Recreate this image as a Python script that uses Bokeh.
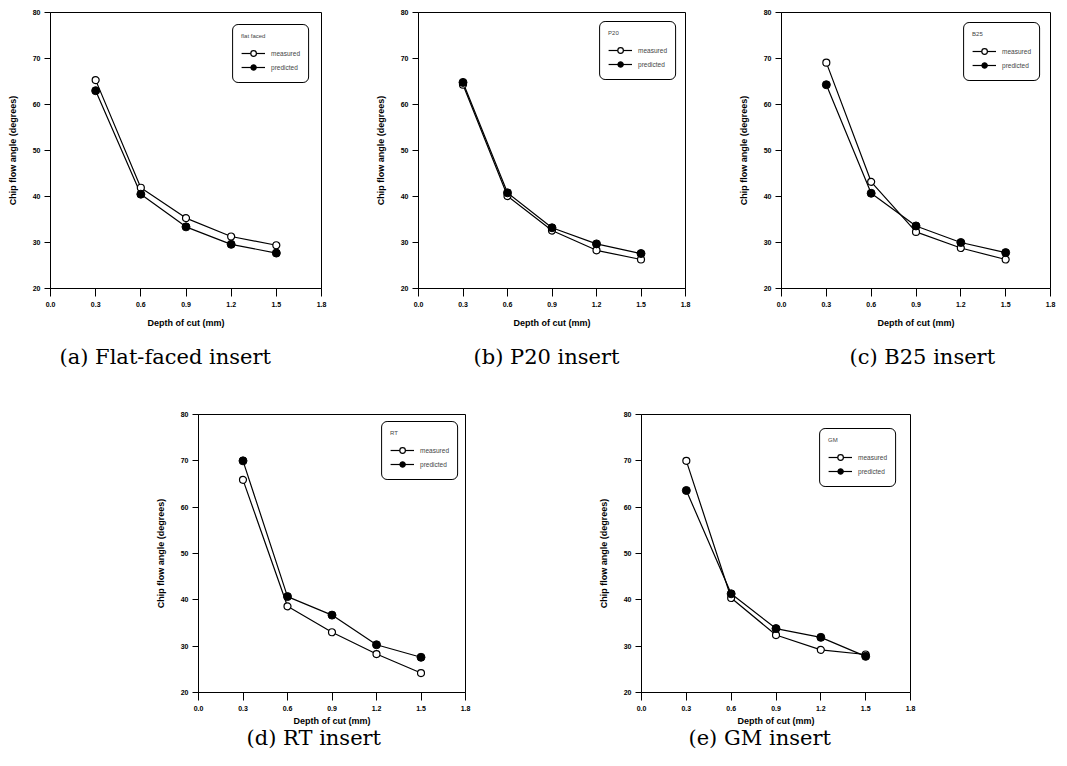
from bokeh.plotting import figure
from bokeh.models import Range1d, FixedTicker, Title, Spacer, PrintfTickFormatter
from bokeh.layouts import column, row
from bokeh.embed import file_html
from bokeh.resources import INLINE

# ---- data ----
depth = [0.3, 0.6, 0.9, 1.2, 1.5]
x_ticks = [0.0, 0.3, 0.6, 0.9, 1.2, 1.5, 1.8]
y_ticks = [20, 30, 40, 50, 60, 70, 80]

flat_measured = [65.3, 41.9, 35.3, 31.3, 29.4]
flat_predicted = [63.0, 40.5, 33.4, 29.6, 27.7]
p20_measured = [64.3, 40.1, 32.6, 28.3, 26.3]
p20_predicted = [64.8, 40.8, 33.2, 29.7, 27.6]
b25_measured = [69.1, 43.2, 32.3, 28.8, 26.3]
b25_predicted = [64.3, 40.7, 33.6, 30.0, 27.8]
rt_measured = [65.9, 38.6, 33.0, 28.3, 24.2]
rt_predicted = [70.0, 40.7, 36.7, 30.3, 27.6]
gm_measured = [70.0, 40.4, 32.4, 29.2, 28.2]
gm_predicted = [63.6, 41.3, 33.8, 31.9, 27.8]

legend_titles = ["flat faced", "P20", "B25", "RT", "GM"]
captions = ["(a) Flat-faced insert", "(b) P20 insert", "(c) B25 insert",
            "(d) RT insert", "(e) GM insert"]
series_labels = ["measured", "predicted"]
x_label = "Depth of cut (mm)"
y_label = "Chip flow angle (degrees)"

SANS = "Liberation Sans"
SERIF = "DejaVu Serif"


def make_panel(meas, pred, ltitle, caption, fw, fh, bl, br, bt, bb,
               cap_offset, cap_standoff, lmargin, xlab_standoff):
    p = figure(frame_width=fw, frame_height=fh,
               x_range=Range1d(0, 1.8), y_range=Range1d(20, 80),
               output_backend="svg", toolbar_location=None,
               min_border_left=bl, min_border_right=br,
               min_border_top=bt, min_border_bottom=bb,
               x_axis_label=x_label, y_axis_label=y_label)
    p.background_fill_color = "white"
    p.border_fill_color = "white"
    p.outline_line_color = "black"
    p.outline_line_width = 1
    p.outline_line_alpha = 1
    p.xgrid.visible = False
    p.ygrid.visible = False

    p.xaxis.ticker = FixedTicker(ticks=x_ticks)
    p.xaxis.formatter = PrintfTickFormatter(format="%.1f")
    p.yaxis.ticker = FixedTicker(ticks=y_ticks)
    p.yaxis.formatter = PrintfTickFormatter(format="%d")
    for ax in (p.xaxis[0], p.yaxis[0]):
        ax.axis_line_color = "black"
        ax.axis_line_width = 1
        ax.major_tick_line_color = "black"
        ax.major_tick_line_width = 1
        ax.major_tick_in = 0
        ax.minor_tick_line_color = None
        ax.major_label_text_font = SANS
        ax.major_label_text_font_size = "7px"
        ax.major_label_text_font_style = "bold"
        ax.major_label_text_color = "black"
        ax.axis_label_text_font = SANS
        ax.axis_label_text_font_size = "9px"
        ax.axis_label_text_font_style = "bold"
        ax.axis_label_text_color = "black"
    p.xaxis.major_tick_out = 8
    p.xaxis.major_label_standoff = 5
    p.xaxis.axis_label_standoff = xlab_standoff
    p.yaxis.major_tick_out = 6
    p.yaxis.major_label_standoff = 4
    p.yaxis.axis_label_standoff = 12

    p.line(depth, meas, line_color="black", line_width=1.2, legend_label=series_labels[0])
    p.line(depth, pred, line_color="black", line_width=1.2, legend_label=series_labels[1])
    p.scatter(depth, meas, marker="circle", size=7, fill_color="white",
              line_color="black", line_width=1.2, legend_label=series_labels[0])
    p.scatter(depth, pred, marker="circle", size=8, fill_color="black",
              line_color="black", line_width=1, legend_label=series_labels[1])

    lg = p.legend[0]
    lg.location = "top_right"
    lg.title = ltitle
    lg.title_text_font = SANS
    lg.title_text_font_size = "6px"
    lg.title_text_font_style = "normal"
    lg.title_standoff = 7
    lg.label_text_font = SANS
    lg.label_text_font_size = "6.5px"
    lg.glyph_width = 24
    lg.glyph_height = 14
    lg.label_height = 14
    lg.label_standoff = 6
    lg.spacing = 0
    lg.padding = 8
    lg.margin = lmargin
    lg.border_line_color = "black"
    lg.border_line_width = 1
    lg.border_line_alpha = 1
    lg.background_fill_color = "white"
    lg.background_fill_alpha = 1
    try:
        lg.border_radius = 6
    except Exception:
        pass

    t = Title(text=caption, align="left", text_font=SERIF,
              text_font_size="21px", text_font_style="normal",
              text_color="black", offset=cap_offset, standoff=cap_standoff)
    p.add_layout(t, "below")
    return p


pa = make_panel(flat_measured, flat_predicted, legend_titles[0], captions[0],
                271, 276, 46, 49, 4, 117, 9, 24, 12, 8)
pb = make_panel(p20_measured, p20_predicted, legend_titles[1], captions[1],
                267, 276, 48, 50, 4, 117, 55, 24, 9, 8)
pc = make_panel(b25_measured, b25_predicted, legend_titles[2], captions[2],
                269, 276, 46, 9, 4, 117, 68, 24, 10, 8)
pd = make_panel(rt_measured, rt_predicted, legend_titles[3], captions[3],
                267, 278, 48, 45, 9, 66, 48, -9, 7, 2)
pe = make_panel(gm_measured, gm_predicted, legend_titles[4], captions[4],
                269, 278, 46, 8, 9, 66, 47, -9, 14, 2)

layout = column(
    Spacer(width=10, height=8),
    row(Spacer(width=4, height=10), pa, pb, pc),
    row(Spacer(width=150, height=10), pd, Spacer(width=85, height=10), pe),
)

open("out.html", "w").write(file_html(layout, INLINE))
